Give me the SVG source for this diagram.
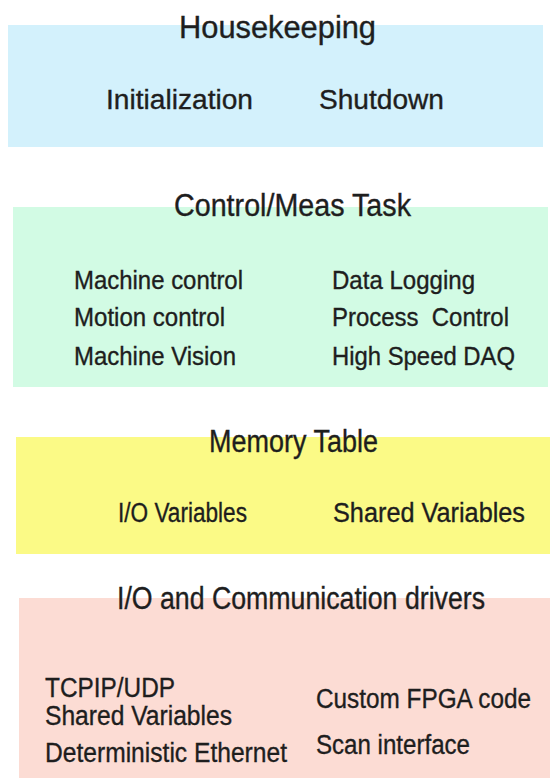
<svg xmlns="http://www.w3.org/2000/svg" width="550" height="778" viewBox="0 0 550 778">
<style>
  text { font-family: "Liberation Sans", Arial, sans-serif; fill: #1e1e1e; stroke: #1e1e1e; stroke-width: 0.35px; white-space: pre; }
  .title { font-size: 31px; }
  .item { font-size: 27px; }
  .green-item { font-size: 25px; }
</style>
<rect width="550" height="778" fill="#ffffff"/>
<g id="housekeeping">
  <rect x="8" y="25" width="535" height="122" fill="#d3f1fc"/>
  <text class="title" x="179" y="38" font-size="32" textLength="197" lengthAdjust="spacingAndGlyphs">Housekeeping</text>
  <text class="item" x="106" y="109" font-size="28" textLength="147" lengthAdjust="spacingAndGlyphs">Initialization</text>
  <text class="item" x="319" y="109" font-size="28" textLength="125" lengthAdjust="spacingAndGlyphs">Shutdown</text>
</g>
<g id="control-meas-task">
  <rect x="13" y="207" width="535" height="180" fill="#d2fbe4"/>
  <text class="title" x="174" y="216" font-size="29" textLength="237" lengthAdjust="spacingAndGlyphs">Control/Meas Task</text>
  <text class="green-item" x="74" y="289" textLength="169" lengthAdjust="spacingAndGlyphs">Machine control</text>
  <text class="green-item" x="74" y="326" textLength="151" lengthAdjust="spacingAndGlyphs">Motion control</text>
  <text class="green-item" x="74" y="365" textLength="162" lengthAdjust="spacingAndGlyphs">Machine Vision</text>
  <text class="green-item" x="332" y="289" textLength="143" lengthAdjust="spacingAndGlyphs">Data Logging</text>
  <text class="green-item" x="332" y="326" textLength="177" lengthAdjust="spacingAndGlyphs" xml:space="preserve">Process  Control</text>
  <text class="green-item" x="332" y="365" textLength="183" lengthAdjust="spacingAndGlyphs">High Speed DAQ</text>
</g>
<g id="memory-table">
  <rect x="16" y="437" width="534" height="117" fill="#fbfa86"/>
  <text class="title" x="209" y="452" font-size="27" textLength="169" lengthAdjust="spacingAndGlyphs">Memory Table</text>
  <text class="item" x="118" y="522" font-size="28" textLength="129" lengthAdjust="spacingAndGlyphs">I/O Variables</text>
  <text class="item" x="333" y="522" textLength="192" lengthAdjust="spacingAndGlyphs">Shared Variables</text>
</g>
<g id="io-communication-drivers">
  <rect x="19" y="598" width="531" height="180" fill="#fcdcd4"/>
  <text class="title" x="117" y="609" font-size="33" textLength="368" lengthAdjust="spacingAndGlyphs">I/O and Communication drivers</text>
  <text class="item" x="45" y="697" font-size="26" textLength="130" lengthAdjust="spacingAndGlyphs">TCPIP/UDP</text>
  <text class="item" x="45" y="725" font-size="24" textLength="187" lengthAdjust="spacingAndGlyphs">Shared Variables</text>
  <text class="item" x="45" y="762" font-size="26" textLength="242" lengthAdjust="spacingAndGlyphs">Deterministic Ethernet</text>
  <text class="item" x="316" y="708" font-size="25" textLength="215" lengthAdjust="spacingAndGlyphs">Custom FPGA code</text>
  <text class="item" x="316" y="754" font-size="28" textLength="154" lengthAdjust="spacingAndGlyphs">Scan interface</text>
</g>
<g id="connectors"/>
</svg>
